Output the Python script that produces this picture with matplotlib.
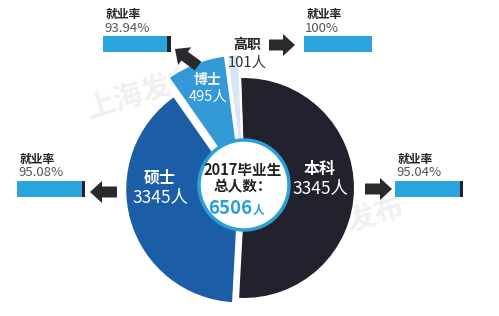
import matplotlib
matplotlib.use('Agg')
import matplotlib.pyplot as plt
from matplotlib.patches import Wedge, Circle, FancyArrow
import numpy as np

plt.rcParams['font.family'] = ['Noto Sans CJK SC', 'DejaVu Sans']

# ---- data ----
categories = ['本科', '硕士', '博士', '高职']
counts = [3345, 2565, 495, 101]              # wedge sizes (sum 6506)
count_labels = ['3345人', '3345人', '495人', '101人']   # texts as printed
rate_labels = ['95.04%', '95.08%', '93.94%', '100%']
rates = [95.04, 95.08, 93.94, 100.0]
title_lines = ['2017毕业生', '总人数：']
total_label = '6506'

# ---- style / layout ----
W, H = 499, 316
colors = ['#22222e', '#1b5ea7', '#3399d7', '#d8e7f5']
radii = [111, 114, 128, 128]
explode = [0, 5, 6, 6]
name_colors = ['white', 'white', 'white', '#222222']
num_colors = ['white', 'white', 'white', '#333333']
label_pos = [(320, 169), (160, 178), (208, 80), (247, 45)]
label_gap = [19, 19, 17, 18]
name_size = [11.5, 11.5, 10, 10]
num_size = [12.5, 12.5, 10.5, 10.5]
bar_pos = [(395, 189), (17, 189), (103, 44), (304, 44)]   # left x, centre y
bar_w, bar_h = 68, 16
arrows = [((365, 189), (392, 189)), ((117, 192), (90, 192)),
          ((198, 66), (175, 49)), ((269, 45), (295, 45))]
light = '#2ba3dd'
dark = '#22222e'
arrow_col = '#2a2a2e'
start_angle = 92.0

fig = plt.figure(figsize=(W / 100, H / 100), dpi=100)
ax = fig.add_axes([0, 0, 1, 1])
ax.set_xlim(0, W)
ax.set_ylim(H, 0)
ax.set_aspect('equal')
ax.axis('off')

# watermark
for (wx, wy) in [(143, 92), (348, 222)]:
    ax.text(wx, wy, '上海发布', fontsize=21, fontweight='bold', color='#f0f0f0',
            rotation=17, ha='center', va='center', zorder=0)

cx, cy = 244, 188
total = float(sum(counts))
start = start_angle
for i, v in enumerate(counts):
    span = v / total * 360.0
    a_hi, a_lo = start, start - span
    mid = np.deg2rad((a_hi + a_lo) / 2)
    ox = cx + explode[i] * np.cos(mid)
    oy = cy - explode[i] * np.sin(mid)
    w = Wedge((ox, oy), radii[i], -a_hi, -a_lo, facecolor=colors[i],
              edgecolor='white', linewidth=1.5, zorder=2)
    ax.add_patch(w)
    start = a_lo

# centre circle
ax.add_patch(Circle((244, 185), 45, facecolor='white', edgecolor='#2a9fd8',
                    linewidth=2.5, zorder=3))
ax.text(243, 170, title_lines[0], fontsize=10.5, fontweight='bold', color='#222222',
        ha='center', va='center', zorder=4)
ax.text(243, 186, title_lines[1], fontsize=10.5, fontweight='bold', color='#222222',
        ha='center', va='center', zorder=4)
ax.text(252, 214, total_label, fontsize=13.5, fontweight='bold', color='#2c9fd9',
        ha='right', va='baseline', zorder=4)
ax.text(253, 214, '人', fontsize=8.5, fontweight='bold', color='#2c9fd9',
        ha='left', va='baseline', zorder=4)

# segment labels
for i, cat in enumerate(categories):
    x, y = label_pos[i]
    ax.text(x, y, cat, fontsize=name_size[i], fontweight='bold', color=name_colors[i],
            ha='center', va='center', zorder=5)
    ax.text(x, y + label_gap[i], count_labels[i], fontsize=num_size[i], color=num_colors[i],
            ha='center', va='center', zorder=5)

# employment-rate bars
for i, r in enumerate(rates):
    x0, yc = bar_pos[i]
    fill = bar_w * r / 100.0
    ax.barh(yc, fill, left=x0, height=bar_h, color=light, zorder=2)
    if r < 100:
        ax.barh(yc, bar_w - fill, left=x0 + fill, height=bar_h, color=dark, zorder=2)
    ax.text(x0 + 3, yc - 30, '就业率', fontsize=8.5, fontweight='bold', color='#222222',
            ha='left', va='center', zorder=5)
    ax.text(x0 + 1, yc - 16, rate_labels[i], fontsize=9.5, color='#555555',
            ha='left', va='center', zorder=5)

# arrows
for (x0, y0), (x1, y1) in arrows:
    ax.add_patch(FancyArrow(x0, y0, x1 - x0, y1 - y0, width=11, head_width=22,
                            head_length=12, length_includes_head=True,
                            color=arrow_col, linewidth=0, zorder=5))

fig.savefig('out.png', dpi=100, facecolor='white')
